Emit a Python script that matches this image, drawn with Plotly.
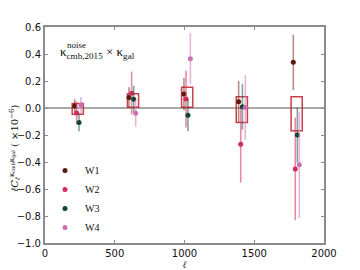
import plotly.graph_objects as go

# ---- data ----
fields = ["W1", "W2", "W3", "W4"]
colors = ["#5b1a10", "#d42a5c", "#0f4538", "#cc6fb0"]
err_colors = ["rgba(120,50,40,0.55)", "rgba(220,60,100,0.6)", "rgba(30,90,80,0.55)", "rgba(220,130,190,0.6)"]

ell_w1 = [213, 602, 996, 1388, 1780]
val_w1 = [0.015, 0.078, 0.103, 0.046, 0.338]
err_w1 = [0.05, 0.075, 0.12, 0.155, 0.205]

ell_w2 = [227, 621, 1011, 1403, 1794]
val_w2 = [-0.037, 0.11, 0.066, -0.268, -0.451]
err_w2 = [0.085, 0.16, 0.21, 0.285, 0.38]

ell_w3 = [244, 636, 1025, 1415, 1809]
val_w3 = [-0.108, 0.064, -0.053, 0.009, -0.2]
err_w3 = [0.065, 0.1, 0.12, 0.17, 0.205]

ell_w4 = [258, 650, 1042, 1436, 1823]
val_w4 = [0.022, -0.038, 0.365, 0.004, -0.421]
err_w4 = [0.06, 0.1, 0.19, 0.24, 0.395]

box_ell = [235, 631, 1019, 1411, 1804]
box_low = [-0.047, 0.006, 0.006, -0.107, -0.169]
box_high = [0.034, 0.105, 0.153, 0.083, 0.083]
box_halfwidth = 40

xticks = [0, 500, 1000, 1500, 2000]
yticks = [-1.0, -0.8, -0.6, -0.4, -0.2, 0.0, 0.2, 0.4, 0.6]

ells = [ell_w1, ell_w2, ell_w3, ell_w4]
vals = [val_w1, val_w2, val_w3, val_w4]
errs = [err_w1, err_w2, err_w3, err_w4]

fig = go.Figure()

shapes = []
for c, lo, hi in zip(box_ell, box_low, box_high):
    shapes.append(dict(type="rect", xref="x", yref="y",
                       x0=c - box_halfwidth, x1=c + box_halfwidth, y0=lo, y1=hi,
                       line=dict(color="rgba(190,30,40,0.85)", width=1.5),
                       fillcolor="rgba(0,0,0,0)", layer="below"))

for name, col, ecol, x, y, e in zip(fields, colors, err_colors, ells, vals, errs):
    fig.add_trace(go.Scatter(
        x=x, y=y, mode="markers", name=name,
        marker=dict(color=col, size=5),
        error_y=dict(type="data", array=e, visible=True, color=ecol, thickness=1.6, width=0),
    ))

axis_common = dict(showline=True, linecolor="#8c8c8c", linewidth=2, mirror="ticks",
                   ticks="inside", ticklen=3, tickcolor="#8c8c8c", showgrid=False,
                   zeroline=False, automargin=False,
                   tickfont=dict(family="DejaVu Sans", size=10, color="#111"))

fig.update_layout(
    width=352, height=262,
    margin=dict(l=37, r=36, t=19, b=27),
    paper_bgcolor="white", plot_bgcolor="white",
    shapes=shapes + [dict(type="line", xref="paper", yref="y", x0=0, x1=1, y0=0, y1=0,
                          line=dict(color="#8c8c8c", width=1.6), layer="below")],
    xaxis=dict(range=[0, 2000], tickvals=xticks, ticktext=[str(t) for t in xticks],
               title=dict(text="<i>ℓ</i>", font=dict(family="DejaVu Serif", size=10), standoff=0),
               **axis_common),
    yaxis=dict(range=[-1.0, 0.6], tickvals=yticks, ticktext=[f"{t:.1f}".replace("-", "−") for t in yticks],
               **axis_common),
    legend=dict(x=0.0, y=0.005, xanchor="left", yanchor="bottom", bgcolor="rgba(0,0,0,0)",
                font=dict(family="Liberation Serif", size=10, color="#111"), tracegroupgap=0,
                itemwidth=30),
    showlegend=True,
    annotations=[
        dict(xref="paper", yref="paper", x=0.047, y=0.88, xanchor="left", yanchor="middle",
             showarrow=False,
             text="κ<sub>cmb,2015</sub> × κ<sub>gal</sub>",
             font=dict(family="Liberation Serif", size=13, color="#111")),
        dict(xref="paper", yref="paper", x=0.072, y=0.915, xanchor="left", yanchor="middle",
             showarrow=False, text="noise",
             font=dict(family="Liberation Serif", size=9, color="#111")),
        dict(xref="paper", yref="paper", x=-0.108, y=0.44, xanchor="center", yanchor="middle",
             showarrow=False, textangle=-90,
             text="<i>ℓC</i><sub><i>ℓ</i></sub><sup>κ<sub>cmb</sub>κ<sub>gal</sub></sup> ( ×10<sup>−6</sup>)",
             font=dict(family="DejaVu Serif", size=10, color="#111")),
    ],
)

fig.write_html("out.html")
